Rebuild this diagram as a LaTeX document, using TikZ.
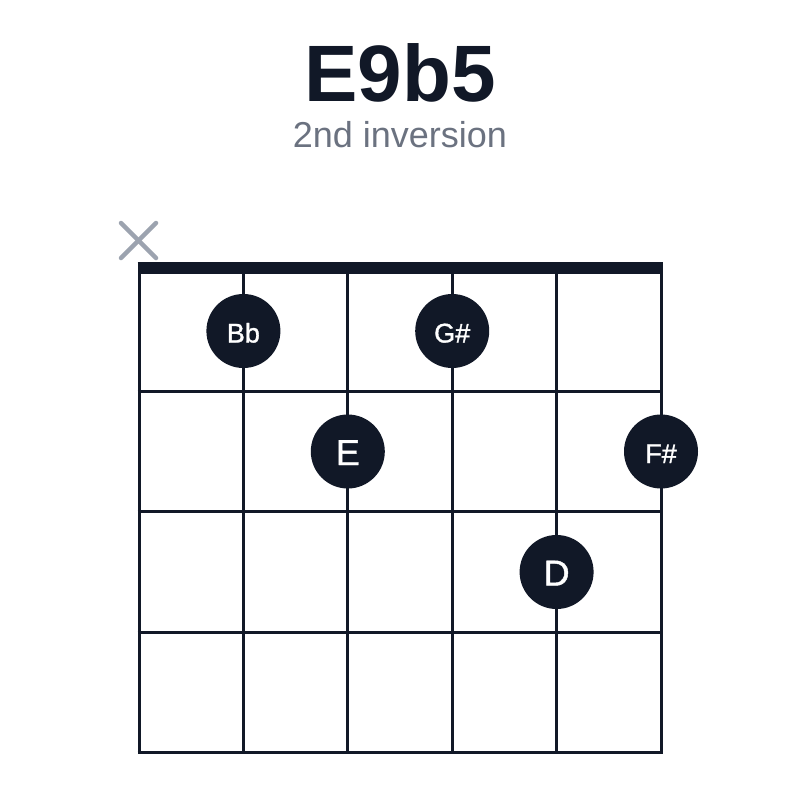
\documentclass[tikz,border=0pt]{standalone}
\usepackage{fontspec}
\setmainfont{Liberation Sans}
\newfontfamily\medfont[FakeBold=1.2]{Liberation Sans}
\definecolor{ink}{HTML}{111827}
\definecolor{mute}{HTML}{9CA3AF}
\definecolor{sub}{HTML}{6B7280}
\begin{document}
\begin{tikzpicture}[x=1pt,y=-1pt,
  gridline/.style={draw=ink,line width=3pt},
  nutline/.style={draw=ink,line width=12pt},
  mutex/.style={draw=mute,line width=4.5pt,line cap=round},
  dot/.style={circle,fill=ink,minimum size=74pt,inner sep=0pt},
  lblsmall/.style={text=white,font=\medfont\fontsize{27}{30}\selectfont,anchor=base,inner sep=0pt},
  lblbig/.style={text=white,font=\medfont\fontsize{36}{40}\selectfont,anchor=base,inner sep=0pt}]
\useasboundingbox[fill=white] (0,0) rectangle (800,800);
% title
\node[anchor=base,inner sep=0pt,text=ink,font=\fontsize{80}{96}\selectfont\bfseries] (title) at (400,101) {E9b5};
\node[anchor=base,inner sep=0pt,text=sub,font=\fontsize{36}{40}\selectfont] (subtitle) at (400,147) {2nd inversion};
% strings
\foreach \i/\x in {1/139,2/243.4,3/347.8,4/452.2,5/556.6,6/661}{
  \coordinate (s\i t) at (\x,268);
  \coordinate (s\i b) at (\x,753.5);
  \draw[gridline] (s\i t) -- (s\i b);
}
% frets
\foreach \j/\y in {1/391.5,2/511.5,3/632,4/752}{
  \coordinate (f\j l) at (137.5,\y);
  \coordinate (f\j r) at (662.5,\y);
  \draw[gridline] (f\j l) -- (f\j r);
}
% nut
\coordinate (nutl) at (137.5,268);
\coordinate (nutr) at (662.5,268);
\draw[nutline] (nutl) -- (nutr);
% muted string
\coordinate (xa) at (121,223);
\coordinate (xb) at (156,258);
\coordinate (xc) at (156,223);
\coordinate (xd) at (121,258);
\draw[mutex] (xa) -- (xb);
\draw[mutex] (xc) -- (xd);
% dots
\node[dot] (bb) at (243.4,331) {};
\node[lblsmall] (bbl) at (243.4,342.5) {Bb};
\node[dot] (gs) at (452.2,331) {};
\node[lblsmall] (gsl) at (452.2,342.5) {G\#};
\node[dot] (e) at (347.8,451.5) {};
\node[lblbig] (el) at (347.8,465) {E};
\node[dot] (fs) at (661,451.5) {};
\node[lblsmall] (fsl) at (661,463) {F\#};
\node[dot] (d) at (556.6,572) {};
\node[lblbig] (dl) at (556.6,585.5) {D};
\end{tikzpicture}
\end{document}
